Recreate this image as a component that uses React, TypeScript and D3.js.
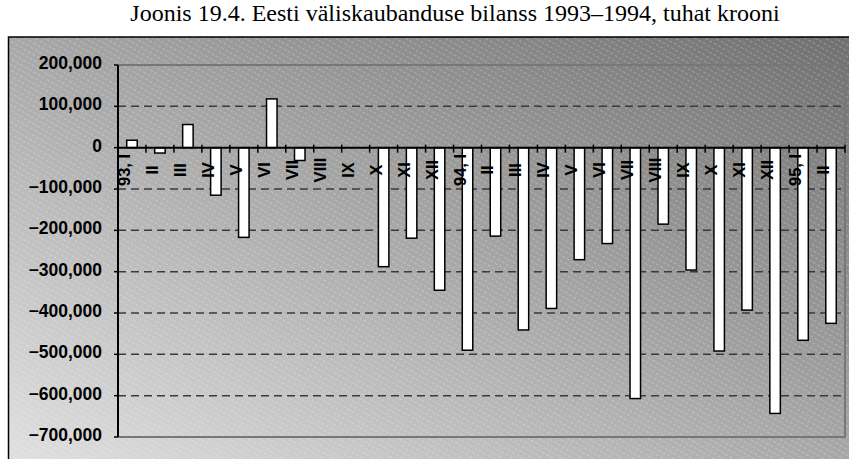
import React, { useRef, useEffect } from "react";
import * as d3 from "d3";

const months: string[] = [
  "93, I", "II", "III", "IV", "V", "VI", "VII", "VIII", "IX", "X", "XI", "XII",
  "94, I", "II", "III", "IV", "V", "VI", "VII", "VIII", "IX", "X", "XI", "XII",
  "95, I", "II",
];

// thousand kroons; VIII and IX of 1993 have no bar
const balance: (number | null)[] = [
  18000, -13000, 56000, -115000, -217000, 118000, -31000, null, null, -288000, -219000, -345000,
  -490000, -214000, -441000, -389000, -271000, -232000, -607000, -185000, -296000, -492000, -393000, -643000,
  -466000, -425000,
];

const yTicks: number[] = [200000, 100000, 0, -100000, -200000, -300000, -400000, -500000, -600000, -700000];

const title = "Joonis 19.4. Eesti väliskaubanduse bilanss 1993–1994, tuhat krooni";

export default function App() {
  const svgRef = useRef<SVGSVGElement>(null);

  useEffect(() => {
    const svg = d3.select(svgRef.current);
    svg.selectAll("*").remove();

    const plot = { left: 118, right: 845, top: 65, bottom: 437 };

    const x = d3
      .scaleBand<number>()
      .domain(d3.range(months.length))
      .range([plot.left, plot.right])
      .paddingInner(0.625)
      .paddingOuter(0.3125);
    const y = d3.scaleLinear().domain([-700000, 200000]).range([plot.bottom, plot.top]);

    const defs = svg.append("defs");
    const grad = defs
      .append("linearGradient")
      .attr("id", "bg")
      .attr("x1", 0)
      .attr("y1", 1)
      .attr("x2", 1)
      .attr("y2", 0);
    grad.append("stop").attr("offset", "0%").attr("stop-color", "#e2e2e2");
    grad.append("stop").attr("offset", "100%").attr("stop-color", "#6e6e6e");

    const hatch = defs
      .append("pattern")
      .attr("id", "hatch")
      .attr("patternUnits", "userSpaceOnUse")
      .attr("width", 10)
      .attr("height", 5)
      .attr("patternTransform", "rotate(30)");
    hatch
      .append("line")
      .attr("x1", 0)
      .attr("y1", 0.5)
      .attr("x2", 10)
      .attr("y2", 0.5)
      .attr("stroke", "#fff")
      .attr("stroke-opacity", 0.25)
      .attr("stroke-width", 1)
      .attr("stroke-dasharray", "3,2");

    // title
    svg
      .append("text")
      .attr("x", 455)
      .attr("y", 21)
      .attr("text-anchor", "middle")
      .style("font-family", "'Liberation Serif', 'Times New Roman', serif")
      .style("font-size", "24px")
      .attr("fill", "#000")
      .text(title);

    // chart area
    svg
      .append("rect")
      .attr("x", 8.5)
      .attr("y", 37)
      .attr("width", 870)
      .attr("height", 440)
      .attr("fill", "url(#bg)");
    svg
      .append("rect")
      .attr("x", 8.5)
      .attr("y", 37)
      .attr("width", 870)
      .attr("height", 440)
      .attr("fill", "url(#hatch)")
      .attr("stroke", "#000")
      .attr("stroke-width", 1.5);

    const g = svg.append("g");

    // dashed gridlines
    g.selectAll(".grid")
      .data(yTicks.filter((d) => d !== 0 && d !== 200000 && d !== -700000))
      .enter()
      .append("line")
      .attr("x1", plot.left)
      .attr("x2", plot.right)
      .attr("y1", (d) => y(d))
      .attr("y2", (d) => y(d))
      .attr("stroke", "#3a3a3a")
      .attr("stroke-width", 1.5)
      .attr("stroke-dasharray", "8,5");

    // plot border (top, right, bottom)
    g.append("path")
      .attr("d", `M${plot.left},${plot.top}H${plot.right}V${plot.bottom}H${plot.left}`)
      .attr("fill", "none")
      .attr("stroke", "#777")
      .attr("stroke-width", 2);

    // bars
    g.selectAll(".bar")
      .data(balance.map((v, i) => ({ v, i })).filter((d) => d.v !== null))
      .enter()
      .append("rect")
      .attr("x", (d) => x(d.i)!)
      .attr("width", x.bandwidth())
      .attr("y", (d) => y(Math.max(0, d.v as number)))
      .attr("height", (d) => Math.abs(y(d.v as number) - y(0)))
      .attr("fill", "#fff")
      .attr("stroke", "#000")
      .attr("stroke-width", 1.5);

    // y axis
    g.append("line")
      .attr("x1", plot.left)
      .attr("x2", plot.left)
      .attr("y1", plot.top)
      .attr("y2", plot.bottom)
      .attr("stroke", "#000")
      .attr("stroke-width", 2);
    g.selectAll(".ytick")
      .data(yTicks)
      .enter()
      .append("line")
      .attr("x1", plot.left - 4)
      .attr("x2", plot.left)
      .attr("y1", (d) => y(d))
      .attr("y2", (d) => y(d))
      .attr("stroke", "#000")
      .attr("stroke-width", 1.5);
    g.selectAll(".ylabel")
      .data(yTicks)
      .enter()
      .append("text")
      .attr("x", 102)
      .attr("y", (d) => y(d) + 4)
      .attr("text-anchor", "end")
      .style("font-family", "'Liberation Sans', Arial, sans-serif")
      .style("font-size", "17.5px")
      .style("font-weight", "bold")
      .attr("fill", "#000")
      .text((d) => d3.format(",")(d));

    // zero axis with crossing ticks at category boundaries
    g.append("line")
      .attr("x1", plot.left)
      .attr("x2", plot.right)
      .attr("y1", y(0))
      .attr("y2", y(0))
      .attr("stroke", "#000")
      .attr("stroke-width", 2);
    g.selectAll(".xtick")
      .data(d3.range(months.length + 1))
      .enter()
      .append("line")
      .attr("x1", (k) => plot.left + k * x.step())
      .attr("x2", (k) => plot.left + k * x.step())
      .attr("y1", y(0) - 3)
      .attr("y2", y(0) + 5)
      .attr("stroke", "#000")
      .attr("stroke-width", 1.5);

    // rotated month labels
    g.selectAll(".xlabel")
      .data(months)
      .enter()
      .append("text")
      .attr("transform", (d, i) => `translate(${x(i)! + x.bandwidth() / 2 - 2}, 170) rotate(-90)`)
      .attr("text-anchor", "middle")
      .style("font-family", "'Liberation Sans', Arial, sans-serif")
      .style("font-size", "16.5px")
      .style("font-weight", "bold")
      .attr("fill", "#000")
      .text((d) => d);
  }, []);

  return (
    <svg
      ref={svgRef}
      width={849}
      height={459}
      style={{ position: "absolute", left: 0, top: 0, background: "#fff" }}
    ></svg>
  );
}
